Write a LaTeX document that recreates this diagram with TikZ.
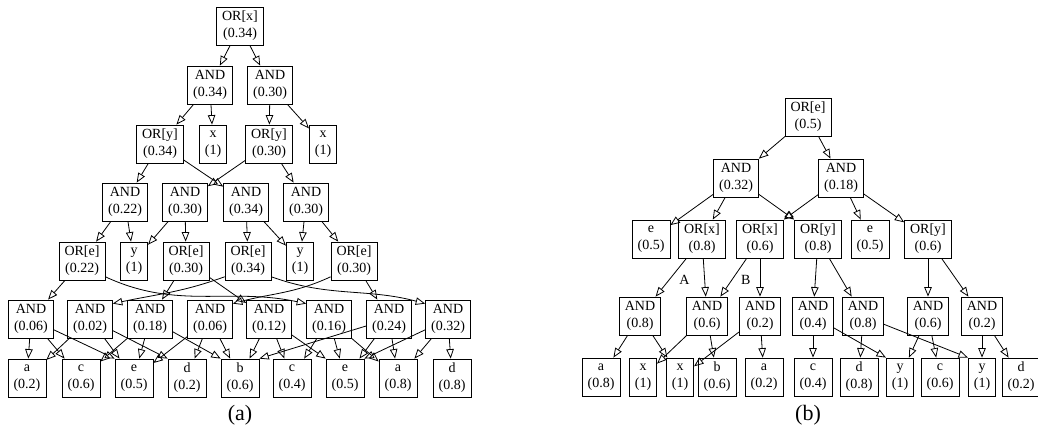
\documentclass[tikz,border=0pt]{standalone}
\usepackage{fontspec}
\setmainfont{Liberation Serif}
\usetikzlibrary{arrows.meta}

\begin{document}
\begin{tikzpicture}[x=1pt,y=-1pt,->,>={Triangle[open,length=9.5pt,width=7.5pt]},auto,line width=0.8pt]
        \tikzstyle{every node}=[font=\fontsize{14}{17}\selectfont]
        \tikzstyle{gate}=[draw=black,fill=white,text=black,align=center,inner xsep=5.5pt,inner ysep=0pt,minimum height=38pt]
        \useasboundingbox (0,0) rectangle (1038,437);
        % (a)
        \node[gate] (ox) at (240,26) {OR[x]\\(0.34)};
        \node[gate] (n1) at (210,85) {AND\\(0.34)};
        \node[gate] (n2) at (270,85) {AND\\(0.30)};
        \node[gate] (oy1) at (160,144) {OR[y]\\(0.34)};
        \node[gate] (x1) at (213,144) {x\\(1)};
        \node[gate] (oy2) at (269,144) {OR[y]\\(0.30)};
        \node[gate] (x2) at (323,144) {x\\(1)};
        \node[gate] (n3) at (125,202) {AND\\(0.22)};
        \node[gate] (n4) at (185,202) {AND\\(0.30)};
        \node[gate] (n5) at (246,202) {AND\\(0.34)};
        \node[gate] (n6) at (306,202) {AND\\(0.30)};
        \node[gate] (oe1) at (82,261) {OR[e]\\(0.22)};
        \node[gate] (y1) at (134,261) {y\\(1)};
        \node[gate] (oe2) at (186,261) {OR[e]\\(0.30)};
        \node[gate] (oe3) at (248,261) {OR[e]\\(0.34)};
        \node[gate] (y2) at (300,261) {y\\(1)};
        \node[gate] (oe4) at (354,261) {OR[e]\\(0.30)};
        \node[gate] (m1) at (31,319) {AND\\(0.06)};
        \node[gate] (m2) at (90,319) {AND\\(0.02)};
        \node[gate] (m3) at (150,319) {AND\\(0.18)};
        \node[gate] (m4) at (210,319) {AND\\(0.06)};
        \node[gate] (m5) at (269,319) {AND\\(0.12)};
        \node[gate] (m6) at (329,319) {AND\\(0.16)};
        \node[gate] (m7) at (389,319) {AND\\(0.24)};
        \node[gate] (m8) at (448,319) {AND\\(0.32)};
        \node[gate] (l1) at (27,378) {a\\(0.2)};
        \node[gate] (l2) at (81,378) {c\\(0.6)};
        \node[gate] (l3) at (134,378) {e\\(0.5)};
        \node[gate] (l4) at (187,378) {d\\(0.2)};
        \node[gate] (l5) at (240,378) {b\\(0.6)};
        \node[gate] (l6) at (292,378) {c\\(0.4)};
        \node[gate] (l7) at (345,378) {e\\(0.5)};
        \node[gate] (l8) at (398,378) {a\\(0.8)};
        \node[gate] (l9) at (452,378) {d\\(0.8)};
        \node[font=\fontsize{22}{26}\selectfont] (capa) at (240,415) {(a)};
    \path
        (ox) edge (n1) edge (n2)
        (n1) edge (oy1) edge (x1)
        (n2) edge (oy2) edge (x2)
        (oy1) edge (n3) edge (n5)
        (oy2) edge (n4) edge (n6)
        (n3) edge (oe1) edge (y1)
        (n4) edge (y1) edge (oe2)
        (n5) edge (oe3) edge (y2)
        (n6) edge (y2) edge (oe4)
        (oe1) edge (m1)
        (oe1.-34) edge[out=-25,in=168] (m6.146)
        (oe2) edge (m3) edge (m5)
        (oe3.-146) edge[out=200,in=12] (m2.34)
        (oe3.-34) edge[out=-20,in=165] (m8.146)
        (oe4.-146) edge[out=205,in=15] (m4.34)
        (oe4) edge (m7)
        (m1) edge (l1) edge (l2) edge (l3.north west)
        (m2) edge (l1) edge (l3) edge (l4.north west)
        (m3) edge (l2) edge (l3) edge (l5.north west)
        (m4) edge (l3) edge (l4) edge (l5)
        (m5) edge (l5) edge (l6) edge (l7.north west)
        (m6) edge (l6) edge (l7) edge (l8)
        (m7) edge (l5.north east) edge (l7) edge (l8)
        (m8) edge (l7.north east) edge (l8) edge (l9);
        % (b)
        \node[gate] (pe) at (808,117) {OR[e]\\(0.5)};
        \node[gate] (p1) at (736,178) {AND\\(0.32)};
        \node[gate] (p2) at (841,178) {AND\\(0.18)};
        \node[gate] (pe1) at (651,239) {e\\(0.5)};
        \node[gate] (px1) at (702,239) {OR[x]\\(0.8)};
        \node[gate] (px2) at (760,239) {OR[x]\\(0.6)};
        \node[gate] (py1) at (818,239) {OR[y]\\(0.8)};
        \node[gate] (pe2) at (870,239) {e\\(0.5)};
        \node[gate] (py2) at (928,239) {OR[y]\\(0.6)};
        \node[gate] (q1) at (640,316) {AND\\(0.8)};
        \node[gate] (q2) at (707,316) {AND\\(0.6)};
        \node[gate] (q3) at (760,316) {AND\\(0.2)};
        \node[gate] (q4) at (813,316) {AND\\(0.4)};
        \node[gate] (q5) at (863,316) {AND\\(0.8)};
        \node[gate] (q6) at (928,316) {AND\\(0.6)};
        \node[gate] (q7) at (982,316) {AND\\(0.2)};
        \node[gate] (k1) at (601,377) {a\\(0.8)};
        \node[gate] (k2) at (643,377) {x\\(1)};
        \node[gate] (k3) at (680,377) {x\\(1)};
        \node[gate] (k4) at (717,377) {b\\(0.6)};
        \node[gate] (k5) at (764,377) {a\\(0.2)};
        \node[gate] (k6) at (813,377) {c\\(0.4)};
        \node[gate] (k7) at (859,377) {d\\(0.8)};
        \node[gate] (k8) at (900,377) {y\\(1)};
        \node[gate] (k9) at (940,377) {c\\(0.6)};
        \node[gate] (k10) at (982,377) {y\\(1)};
        \node[gate] (k11) at (1021,377) {d\\(0.2)};
        \node[font=\fontsize{22}{26}\selectfont] (capb) at (808,415) {(b)};
    \path
        (pe) edge (p1) edge (p2)
        (p1) edge (pe1) edge (px1) edge (py1.north west)
        (p2) edge (px2.north east) edge (pe2) edge (py2)
        (px1) edge node[pos=0.35] {A} (q1) edge (q2)
        (px2) edge node[pos=0.35] {B} (q2) edge (q3)
        (py1) edge (q4) edge (q5)
        (py2) edge (q6) edge (q7)
        (q1) edge (k1) edge (k3)
        (q2) edge (k2) edge (k4)
        (q3) edge (k3) edge (k5)
        (q4) edge (k6) edge (k8.north west)
        (q5) edge (k7) edge (k10.north west)
        (q6) edge (k8) edge (k9)
        (q7) edge (k10) edge (k11);
    \end{tikzpicture}
\end{document}
